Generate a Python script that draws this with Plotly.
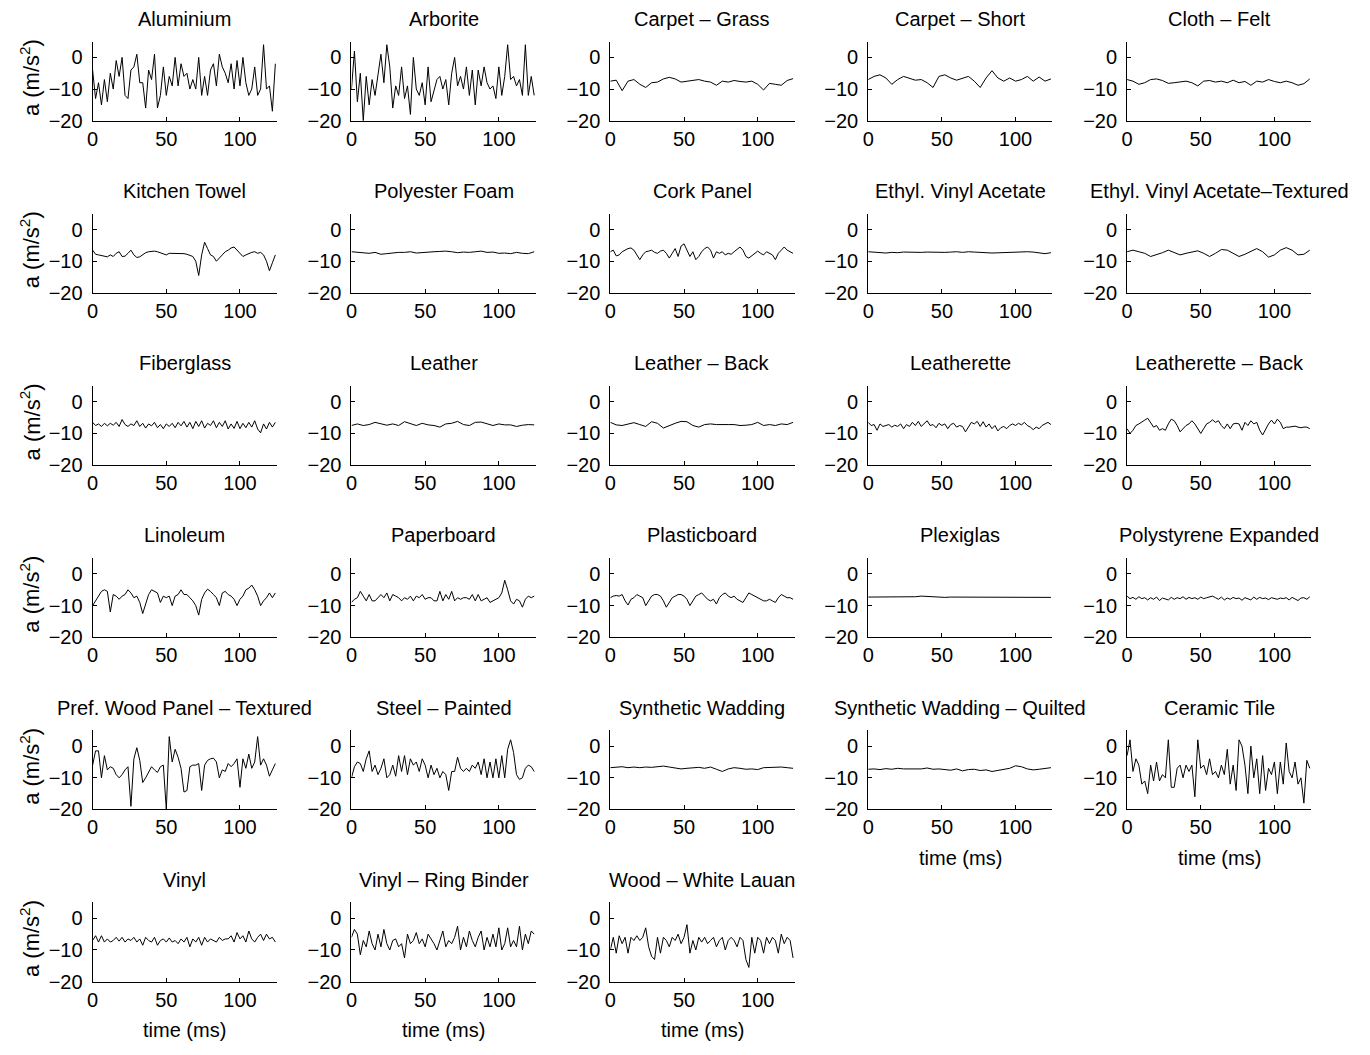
import numpy as np
import plotly.graph_objects as go

# ---------------- data (acceleration, m/s^2) ----------------
materials = [
    "Aluminium", "Arborite", "Carpet – Grass", "Carpet – Short", "Cloth – Felt",
    "Kitchen Towel", "Polyester Foam", "Cork Panel", "Ethyl. Vinyl Acetate", "Ethyl. Vinyl Acetate–Textured",
    "Fiberglass", "Leather", "Leather – Back", "Leatherette", "Leatherette – Back",
    "Linoleum", "Paperboard", "Plasticboard", "Plexiglas", "Polystyrene Expanded",
    "Pref. Wood Panel – Textured", "Steel – Painted", "Synthetic Wadding", "Synthetic Wadding – Quilted", "Ceramic Tile",
    "Vinyl", "Vinyl – Ring Binder", "Wood – White Lauan",
]

aluminium = [-4,-13,-8,-15,-7,-14,-5,-10,-1,-6,0,-12,-13,-4,-3,1,-8,-8,-16,-4,-7,1,-16,-12,-3,-12,-6,-9,0,-9,-2,-6,-5,-10,-7,-10,0,-12,-6,-12,-4,-2,-9,1,-3,-5,-8,-2,-10,-1,-9,0,-8,-12,-10,-3,-12,-10,4,-10,-9,-17,-2]
arborite = [-10,2,-14,-5,-20,-6,-15,-7,-12,-6,1,-8,4,-3,-16,-9,-12,-3,-13,-9,-18,0,-10,-12,-8,-15,-3,-14,-10,-7,-6,-10,-7,-15,-5,0,-9,-6,-10,-3,-12,-4,-15,-4,-9,-3,-8,-10,-9,-13,-3,-12,-6,4,-7,-6,-9,-7,-12,4,-12,-6,-12]
carpet_grass = [-7.5,-7.2,-10.5,-7.5,-7,-8.5,-9.5,-8,-7.8,-6.8,-6.3,-6.8,-7.8,-7.5,-7.2,-7,-7.5,-7.8,-8.8,-7.5,-7.8,-7.3,-7.6,-7.8,-7.5,-8.5,-10.3,-8.2,-8.5,-8.8,-7.3,-6.7]
carpet_short = [-7,-6,-5.5,-6.5,-8.5,-7,-6,-6.5,-7.2,-7,-8,-9.5,-6,-5.5,-6.5,-7.2,-6.5,-6,-7.5,-9.5,-6.5,-4.2,-6.5,-7.5,-6.5,-7.5,-7,-6,-7.5,-6.2,-7.5,-6.8]
cloth_felt = [-7,-7.5,-8.5,-8,-7,-6.8,-7.3,-8.2,-8,-7.7,-7.5,-8,-9,-7.5,-7.3,-7.8,-7.5,-8,-7.2,-8,-7.6,-8.8,-7.5,-7.8,-7,-7.6,-8,-7.5,-8,-8.8,-8.3,-6.8]
kitchen_towel = [-6.5,-7.8,-8,-8.2,-8.3,-8.6,-8,-8.5,-7.5,-7,-8.5,-8.4,-7.5,-6.5,-8,-8.8,-8.6,-8,-7.3,-7,-6.8,-6.8,-7,-7.3,-7.5,-8,-7.5,-7.5,-7.5,-7.5,-7.5,-7.6,-7.8,-8.2,-8.5,-10,-14.5,-8,-4,-6,-8,-8.5,-10,-9,-8,-7,-6.5,-5.8,-5.5,-6.5,-7.5,-8.5,-8,-7.5,-7.2,-7,-7.5,-7.2,-8,-10,-13,-10.5,-8]
polyester_foam = [-7,-7.2,-7.3,-7.5,-7.2,-7.8,-7.6,-7.3,-7.2,-7.2,-7,-7.4,-7.2,-7.1,-7,-6.9,-6.8,-7,-7.3,-7.1,-7.2,-7,-6.8,-7.2,-7.1,-7.5,-7.4,-7.6,-7.2,-7.5,-7.6,-7]
cork_panel = [-7,-6.5,-8.3,-8,-7,-6.5,-6,-5.8,-6.5,-8,-9.5,-8,-7,-6.8,-6.5,-7.2,-7.5,-6.8,-6.5,-7.5,-9,-7.5,-6,-8.5,-5.2,-4.5,-6.5,-8.5,-7,-9.5,-8.5,-7,-6,-5.5,-6.5,-9,-7,-7.5,-7,-8,-7.5,-7.8,-7,-6.2,-5.5,-6.5,-8.5,-9,-8.2,-7.3,-6.8,-7.5,-8,-7,-7.5,-8,-9.5,-7.5,-6.5,-5.5,-6.5,-7,-7.5]
eva = [-7,-7.1,-7.2,-7.4,-7.2,-7.3,-7.1,-7.2,-7.3,-7.2,-7.1,-7.2,-7.3,-7.2,-7.1,-7,-7.2,-7,-7.1,-7.3,-7.3,-7.4,-7.3,-7.2,-7.1,-7,-7,-7,-7.1,-7.3,-7.6,-7.3]
eva_textured = [-7,-6.5,-7,-7.5,-8.5,-8,-7.3,-6.5,-7.2,-8,-7.5,-7,-6.7,-7.5,-8.5,-7.5,-6.3,-6.5,-7.5,-8.5,-7.8,-6.8,-6,-7,-8.7,-8,-6.5,-5.7,-6.5,-8,-7.8,-6.5]
fiberglass = [-6.5,-7.5,-7,-7.8,-6.8,-7.6,-6.8,-7.4,-6.5,-7.8,-5.6,-7.2,-7.8,-7,-7.5,-6,-7.8,-6.8,-8.3,-7,-7.6,-6.5,-8.2,-7.2,-8.5,-7,-7.8,-6.8,-8.2,-6.5,-7.6,-6.2,-8,-6.5,-8.5,-6.2,-7.8,-6,-8.3,-6.8,-7.5,-6,-8.2,-6.5,-7.8,-6,-8.6,-7,-8.4,-6.2,-8.5,-6.8,-8.2,-6.5,-8,-6,-8.6,-9.8,-7,-8.6,-6.5,-8,-6.5]
leather = [-7.5,-7,-7.5,-7.2,-6.5,-7,-7.4,-7,-7.5,-6.3,-7,-7.5,-6.8,-7.3,-7.5,-8,-7,-6.8,-6.2,-7.2,-7.5,-6.5,-6.4,-7,-7.5,-7,-7.3,-7.3,-7.8,-7.4,-7.2,-7.3]
leather_back = [-6.5,-7.3,-7.5,-7,-6.6,-7.2,-7.8,-6.3,-6.8,-8.3,-7.5,-6.8,-6.2,-6.3,-7.5,-8,-7.2,-7,-7.2,-7.3,-7.2,-7.2,-7.5,-7.4,-7.2,-6.5,-7.5,-7.2,-7.5,-7,-7.2,-6.5]
leatherette = [-6.5,-7.5,-7.2,-9,-7,-7.8,-7.5,-7.2,-8,-7.4,-7.8,-7,-8.5,-7.2,-7.8,-6.5,-7.5,-6.2,-7.8,-7,-6,-7.5,-7.2,-8.2,-6.8,-7.5,-7,-8.5,-7.2,-6.8,-8,-7.5,-7.8,-9.5,-7.8,-6.5,-7,-6.2,-7.8,-6.3,-8,-7,-8.5,-7.5,-9.2,-8.2,-7.8,-8.5,-7.5,-7,-7.5,-6.8,-7.3,-6.5,-7.5,-8,-8.8,-8,-8.5,-7.5,-7,-6.5,-7.2]
leatherette_back = [-8.5,-10,-9,-7.5,-7,-6.5,-5.8,-5.2,-6.5,-8,-7.5,-9,-8.5,-9,-7,-5.5,-6,-7.5,-9.5,-8.5,-7.5,-7,-6,-7,-8.5,-10,-8.5,-7,-6.5,-5.7,-6.5,-6,-7.5,-8.5,-7,-8.5,-7,-6.8,-7,-9,-6.5,-7.5,-6,-7,-6.5,-9,-10.5,-8.5,-7,-5.8,-7,-5.5,-6.5,-8.5,-8,-8,-7.8,-7.7,-8,-8.2,-8,-8,-8.5]
linoleum = [-10,-8.5,-7,-5.5,-5,-5.5,-12,-6.5,-7,-8,-7,-6.5,-5,-6,-7.5,-7,-9,-12.5,-9.5,-6.5,-5,-5.5,-6,-9,-7,-7.5,-7,-10,-7,-6.5,-5,-6.5,-6.5,-7.5,-8.5,-10,-13,-8,-6,-4.8,-5.5,-6.5,-7.5,-10,-6,-5.5,-6.5,-7,-8,-10,-8,-7,-5,-4.5,-3.5,-5,-7,-10,-8.5,-7.5,-6,-7.5,-6]
paperboard = [-9,-8,-7.5,-5.5,-7,-8.5,-6.5,-8.5,-8.5,-7.5,-6.5,-7.5,-6,-8.5,-6.5,-7,-7.5,-8.5,-7.5,-8,-7,-8.5,-7,-7.5,-6.5,-8,-7.5,-7.5,-8.5,-8.5,-5.5,-8.5,-6.5,-8,-5.5,-8.5,-7.5,-8,-7.5,-7.5,-8,-6.5,-8.5,-6.5,-8.5,-8,-7.5,-9,-8.5,-8,-7.5,-6,-2,-5,-8.5,-9.5,-8,-8.5,-10.5,-8,-7,-7.5,-7]
plasticboard = [-7.5,-7,-6.8,-7,-6.5,-8.5,-9.8,-8,-7.5,-6.5,-7,-7.5,-10,-8.5,-7,-6.5,-6.5,-7,-8.5,-10.5,-9,-7.5,-7,-6.5,-6.5,-7,-8,-10,-8.5,-7,-6.5,-6,-7,-8,-8.5,-8,-9.5,-7.5,-6.5,-6,-7,-7.5,-7,-8,-8.5,-9,-7.5,-6,-6.5,-7,-7.5,-8,-8.5,-8.5,-8,-8.5,-9,-7.5,-6.5,-7,-7.5,-7.5,-8]
plexiglas = [-7.3,-7.3,-7.4,-7.3,-7.4,-7.3,-7.2,-7.3,-7.2,-7,-7.1,-7.3,-7.4,-7.4,-7.3,-7.3,-7.2,-7.3,-7.3,-7.3,-7.3,-7.2,-7.3,-7.3,-7.3,-7.3,-7.3,-7.2,-7.3,-7.3,-7.4,-7.4]
polystyrene = [-7,-7.8,-7.4,-8,-7.2,-7.8,-7.5,-8.2,-7.5,-8,-7.3,-8.4,-7.6,-7.8,-8.2,-7.4,-8,-7.5,-7.8,-7.2,-8,-7.4,-7.8,-7.5,-8,-7.3,-7.8,-7.5,-7.3,-7,-7.5,-8,-7.3,-8.2,-7.6,-8,-7.4,-7.8,-7.6,-8.3,-7.5,-7.8,-8.2,-7.3,-8,-7.4,-7.8,-7.6,-8.1,-7.5,-7.8,-8,-7.6,-7.8,-7.5,-8.2,-7.4,-7.8,-8.4,-7.6,-7.5,-8,-7.2]
pref_wood = [-6,-1.5,-1.5,-10,-3,-7.5,-6.5,-7,-9,-10,-9,-7.5,-6.5,-19,-4,-0.5,-4.5,-11.5,-10,-8,-6.5,-7.5,-8.3,-6.5,-6,-20,3,-5,-1,-3.5,-7,-14.5,-14,-6.5,-6,-6,-5.5,-14,-6,-4.5,-4,-3.8,-5,-10,-7.5,-8,-5.5,-6.5,-5.5,-4,-13,-4,-7,-2.5,-7,-5,3,-6,-4,-6,-9.5,-7.5,-5.5]
steel_painted = [-10,-6.5,-5,-5.5,-8,-4,-1.5,-8,-6,-9,-7,-4,-10,-9,-6,-9.5,-3,-8,-3,-9,-4,-6,-5,-8,-4,-6,-10,-6,-9,-7,-10,-8,-9,-14,-8,-8,-3.5,-7,-8,-7,-8,-6,-7,-5,-9,-4,-10,-5,-10,-4,-10,-3,-10,-1,2,-2,-9,-10.5,-10,-7,-6,-6.5,-8]
synthetic_wadding = [-6.8,-6.7,-6.5,-6.8,-6.6,-6.8,-6.6,-6.7,-6.5,-6.3,-6.6,-6.8,-7.2,-7,-6.8,-6.7,-7,-6.6,-7.3,-8,-7.2,-6.8,-7,-7.3,-7.2,-7.4,-6.8,-6.7,-6.8,-6.6,-6.8,-7]
sw_quilted = [-7.3,-7.2,-7.4,-7.1,-7.3,-7,-7.2,-7.2,-7,-7.2,-6.9,-7.3,-7.2,-7.5,-7.6,-7.2,-7.8,-7.4,-7.3,-7.7,-7.5,-8,-7.6,-7.2,-7,-6.2,-6.5,-7.2,-7.5,-7.3,-7,-6.8]
ceramic_tile = [-3,2,-8,-4,-6,-12,-11,-15,-6,-11,-5,-11,-9,-10,2,-13,-13,-7,-6,-10,-6,-8,-6,-16,2,-7,-6,-9,-4,-9,-8,-10,-6,-9,-1,-12,-6,-14,2,0,-6,-15,0,-10,-4,-15,-3,-14,-7,-9,-5,-15,-5,-12,1,-8,-10,-5,-12,-10,-18,-4.5,-7]
vinyl = [-7,-5.5,-7.5,-5.5,-7.5,-6.5,-7.5,-7,-6,-7.2,-6,-7.5,-6.5,-7,-6,-7.5,-6.5,-8.5,-6,-7,-7.5,-6,-8.5,-7,-6.5,-7.5,-6.2,-7.5,-7,-8,-6.5,-7.5,-6,-9,-6.5,-7.5,-6,-8.5,-6,-7.5,-6.5,-7,-7.5,-6,-7,-6.5,-6.5,-5.5,-7.5,-4.5,-6.5,-5.5,-7.5,-4,-6.5,-7.5,-6,-5,-7,-5,-6.5,-6,-7.5]
vinyl_ring_binder = [-6,-3.5,-5,-11.5,-7,-9,-4,-8,-10,-5,-9,-3.5,-8,-10,-7,-6.5,-9,-8,-12.5,-5,-8,-7,-4.5,-8,-6.5,-9,-5,-6.5,-8,-10,-7,-4,-9,-7,-8,-6,-2.5,-10,-6,-9,-4,-7,-9,-6,-4,-10,-6,-9,-5,-9,-3,-10,-8,-3,-9,-7,-9,-2.5,-10,-5,-8,-4,-5]
wood_white_lauan = [-10,-6,-11,-5.5,-8,-6,-11,-6,-7,-5.5,-7,-6,-3,-9,-12,-13,-6,-11,-6,-7,-9,-6,-7,-5,-8,-6,-2,-11,-7,-10,-6,-7.5,-6,-8,-7,-6,-9,-7,-6,-10,-7,-6,-7,-9,-6,-7,-13,-15.5,-6,-11,-6,-7,-11,-6,-8,-6,-7,-11,-5,-8,-6,-7,-12.5]

series = [
    aluminium, arborite, carpet_grass, carpet_short, cloth_felt,
    kitchen_towel, polyester_foam, cork_panel, eva, eva_textured,
    fiberglass, leather, leather_back, leatherette, leatherette_back,
    linoleum, paperboard, plasticboard, plexiglas, polystyrene,
    pref_wood, steel_painted, synthetic_wadding, sw_quilted, ceramic_tile,
    vinyl, vinyl_ring_binder, wood_white_lauan,
]

t_end = 124          # ms
x_range = [0, 125]
y_range = [-20, 5]
x_ticks = [0, 50, 100]
y_ticks = [-20, -10, 0]
y_label = "a (m/s<sup>2</sup>)"
x_label = "time (ms)"

# ---------------- layout geometry (pixels) ----------------
W, H = 1370, 1055
col_left = [87, 347, 607, 866, 1126]
row_top = [42, 216, 390, 564, 738, 912]
pw, ph = 185, 80
FONT = "Liberation Sans, Arial, Helvetica, sans-serif"
FS = 20

def px_x(x):
    return x / W

def px_y(y):
    return 1 - y / H

fig = go.Figure()
annotations = []
layout = {}
n = len(materials)
last_in_col = {}
for i in range(n):
    last_in_col[i % 5] = i

for i, (name, vals) in enumerate(zip(materials, series)):
    r, c = divmod(i, 5)
    k = i + 1
    xa = "xaxis" if k == 1 else f"xaxis{k}"
    ya = "yaxis" if k == 1 else f"yaxis{k}"
    xref = "x" if k == 1 else f"x{k}"
    yref = "y" if k == 1 else f"y{k}"
    t = np.linspace(0, t_end, len(vals))
    fig.add_trace(go.Scatter(x=t, y=vals, mode="lines",
                             line=dict(color="black", width=1),
                             xaxis=xref, yaxis=yref, showlegend=False,
                             hoverinfo="skip"))
    l, tp = col_left[c], row_top[r]
    common = dict(showgrid=False, zeroline=False, showline=True,
                  linecolor="black", linewidth=1, ticks="inside",
                  ticklen=4, tickcolor="black", tickwidth=1,
                  tickfont=dict(family=FONT, size=FS, color="black"),
                  fixedrange=True)
    layout[xa] = dict(domain=[px_x(l), px_x(l + pw)], range=x_range,
                      tickvals=x_ticks, anchor=yref, **common)
    layout[ya] = dict(domain=[px_y(tp + ph), px_y(tp)], range=y_range,
                      tickvals=y_ticks, anchor=xref, ticklabelstandoff=5,
                      **common)
    # title
    annotations.append(dict(text=name, x=px_x(l + pw / 2), y=px_y(tp - 23),
                            xref="paper", yref="paper", showarrow=False,
                            xanchor="center", yanchor="middle",
                            font=dict(family=FONT, size=FS, color="black")))
    if c == 0:
        annotations.append(dict(text=y_label, x=px_x(24), y=px_y(tp + ph / 2 - 4),
                                xref="paper", yref="paper", showarrow=False,
                                textangle=-90, xanchor="center", yanchor="middle",
                                font=dict(family=FONT, size=22, color="black")))
    if last_in_col[c] == i:
        annotations.append(dict(text=x_label, x=px_x(l + pw / 2), y=px_y(tp + ph + 49),
                                xref="paper", yref="paper", showarrow=False,
                                xanchor="center", yanchor="middle",
                                font=dict(family=FONT, size=FS, color="black")))

fig.update_layout(width=W, height=H, margin=dict(l=0, r=0, t=0, b=0),
                  paper_bgcolor="white", plot_bgcolor="white",
                  annotations=annotations, **layout)

fig.write_html("out.html",
               config={"displayModeBar": False},
               post_script="document.body.style.margin='0px';"
                           "document.body.style.overflow='hidden';")
